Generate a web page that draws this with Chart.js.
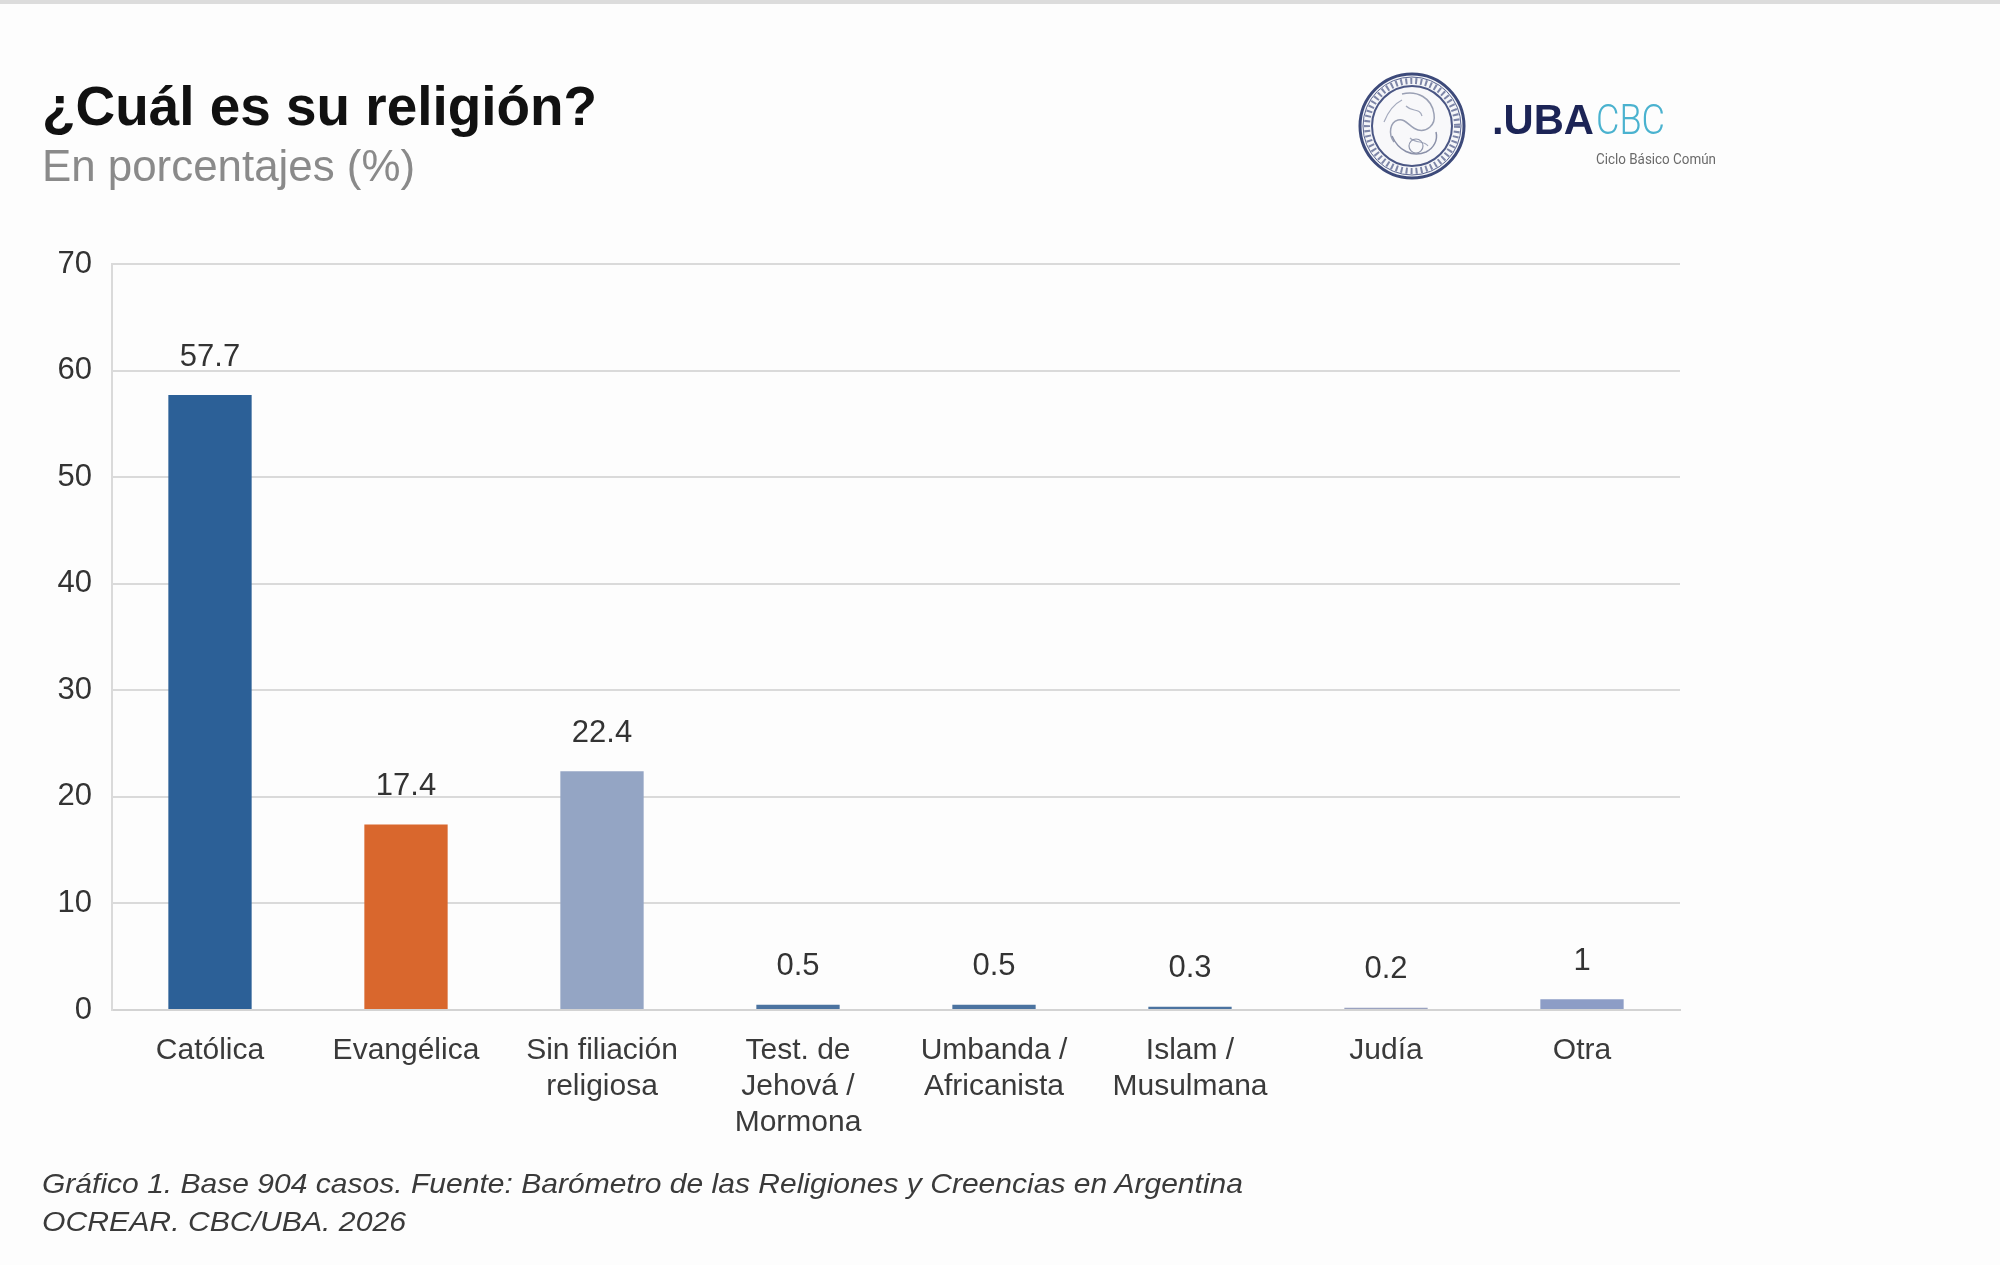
<!DOCTYPE html>
<html>
<head>
<meta charset="utf-8">
<script src="https://cdn.jsdelivr.net/npm/chart.js@4.4.1/dist/chart.umd.min.js"></script>
<style>
  html, body { margin: 0; padding: 0; background: #fdfdfd; width: 2000px; height: 1265px; overflow: hidden; }
  #topband { position: absolute; left: 0; top: 0; width: 2000px; height: 4px; background: #dcdcdc; }
  #chart { position: absolute; left: 0; top: 0; }
  #overlay { position: absolute; left: 0; top: 0; }
</style>
</head>
<body>
<div id="topband"></div>
<canvas id="chart" width="2000" height="1265"></canvas>
<svg id="overlay" width="2000" height="1265" xmlns="http://www.w3.org/2000/svg">
  <text x="42" y="125" font-family="Liberation Sans, Arial, sans-serif" font-weight="bold" font-size="55" fill="#111" textLength="555" lengthAdjust="spacingAndGlyphs">¿Cuál es su religión?</text>
  <text x="42" y="181" font-family="Liberation Sans, Arial, sans-serif" font-size="44" fill="#8a8a8a" textLength="373" lengthAdjust="spacingAndGlyphs">En porcentajes (%)</text>

  <!-- logo seal -->
  <g transform="translate(1412,126)">
    <circle r="52" fill="#f5f6f9" stroke="#3d4a7a" stroke-width="3"/>
    <circle r="49" fill="none" stroke="#5a6590" stroke-width="1"/>
    <circle r="45" fill="none" stroke="#4a5684" stroke-width="6" stroke-dasharray="2 3" opacity="0.7"/>
    <circle r="40" fill="#f8f8fa" stroke="#4a5684" stroke-width="2"/>
    <path d="M-10,-32 C5,-36 20,-28 22,-12 C24,0 14,6 6,4 C-2,2 -6,-8 -14,-6 C-22,-4 -24,8 -18,16" fill="none" stroke="#9aa0b4" stroke-width="1.5"/>
    <path d="M-20,10 C-14,24 0,32 14,26 C22,22 26,14 24,6" fill="none" stroke="#8a90a8" stroke-width="1.5"/>
    <path d="M-6,-20 C0,-14 8,-18 10,-10 M-2,12 C4,18 12,14 16,20 M-28,-4 C-24,-14 -18,-22 -10,-26" fill="none" stroke="#a4aabd" stroke-width="1.2"/>
    <circle cx="4" cy="20" r="7" fill="none" stroke="#9096ac" stroke-width="1.2"/>
  </g>
  <text x="1492" y="134" font-family="Liberation Sans, Arial, sans-serif" font-weight="bold" font-size="43" fill="#1c2456" textLength="102" lengthAdjust="spacingAndGlyphs">.UBA</text>
  <text x="1596" y="134" font-family="Roboto, Liberation Sans, sans-serif" font-weight="300" font-size="43" fill="#4ab2cf" textLength="69" lengthAdjust="spacingAndGlyphs">CBC</text>
  <text x="1596" y="164" font-family="Roboto, Liberation Sans, sans-serif" font-size="14" fill="#6a6a6a" textLength="120" lengthAdjust="spacingAndGlyphs">Ciclo Básico Común</text>

  <text x="42" y="1193" font-family="Liberation Sans, Arial, sans-serif" font-style="italic" font-size="28" fill="#3a3a3a" textLength="1201" lengthAdjust="spacingAndGlyphs">Gráfico 1. Base 904 casos. Fuente: Barómetro de las Religiones y Creencias en Argentina</text>
  <text x="42" y="1231" font-family="Liberation Sans, Arial, sans-serif" font-style="italic" font-size="28" fill="#3a3a3a" textLength="364" lengthAdjust="spacingAndGlyphs">OCREAR. CBC/UBA. 2026</text>
</svg>
<script>
const categories = [
  'Católica',
  'Evangélica',
  ['Sin filiación', 'religiosa'],
  ['Test. de', 'Jehová /', 'Mormona'],
  ['Umbanda /', 'Africanista'],
  ['Islam /', 'Musulmana'],
  'Judía',
  'Otra'
];
const values = [57.7, 17.4, 22.4, 0.5, 0.5, 0.3, 0.2, 1];
const valueLabels = ['57.7', '17.4', '22.4', '0.5', '0.5', '0.3', '0.2', '1'];
const barColors = ['#2c6097', '#d9672d', '#94a5c4', '#4b73a0', '#4b73a0', '#4b73a0', '#9aa2c0', '#8d9dc6'];
const yTicks = [0, 10, 20, 30, 40, 50, 60, 70];

Chart.defaults.font.family = "'Liberation Sans', Arial, sans-serif";
Chart.defaults.color = '#3a3a3a';

const dataLabelPlugin = {
  id: 'dataLabels',
  afterDatasetsDraw(chart) {
    const ctx = chart.ctx;
    const meta = chart.getDatasetMeta(0);
    ctx.save();
    ctx.font = "31px 'Liberation Sans', Arial, sans-serif";
    ctx.fillStyle = '#333333';
    ctx.textAlign = 'center';
    ctx.textBaseline = 'middle';
    meta.data.forEach((bar, i) => {
      ctx.fillText(valueLabels[i], bar.x, bar.y - 38);
    });
    ctx.restore();
  }
};

new Chart(document.getElementById('chart'), {
  type: 'bar',
  data: {
    labels: categories,
    datasets: [{
      data: values,
      backgroundColor: barColors,
      borderWidth: 0,
      barPercentage: 0.425,
      categoryPercentage: 1.0
    }]
  },
  options: {
    responsive: false,
    animation: false,
    devicePixelRatio: 1,
    layout: { padding: { top: 264, right: 320, left: 0, bottom: 0 } },
    plugins: { legend: { display: false }, tooltip: { enabled: false } },
    scales: {
      x: {
        grid: { display: false },
        border: { display: true, color: '#d3d3d3', width: 2 },
        ticks: {
          font: { size: 30, lineHeight: 1.2 },
          color: '#3a3a3a',
          padding: 15,
          maxRotation: 0,
          autoSkip: false
        },
        afterFit(scale) { scale.height = 255; }
      },
      y: {
        min: 0,
        max: 70,
        afterBuildTicks(scale) { scale.ticks = yTicks.map(v => ({ value: v })); },
        grid: { color: '#dadada', lineWidth: 2, drawTicks: false },
        border: { display: true, color: '#dadada', width: 2 },
        ticks: {
          font: { size: 31 },
          color: '#333333',
          padding: 20
        },
        afterFit(scale) { scale.width = 112; }
      }
    }
  },
  plugins: [dataLabelPlugin]
});
</script>
</body>
</html>
